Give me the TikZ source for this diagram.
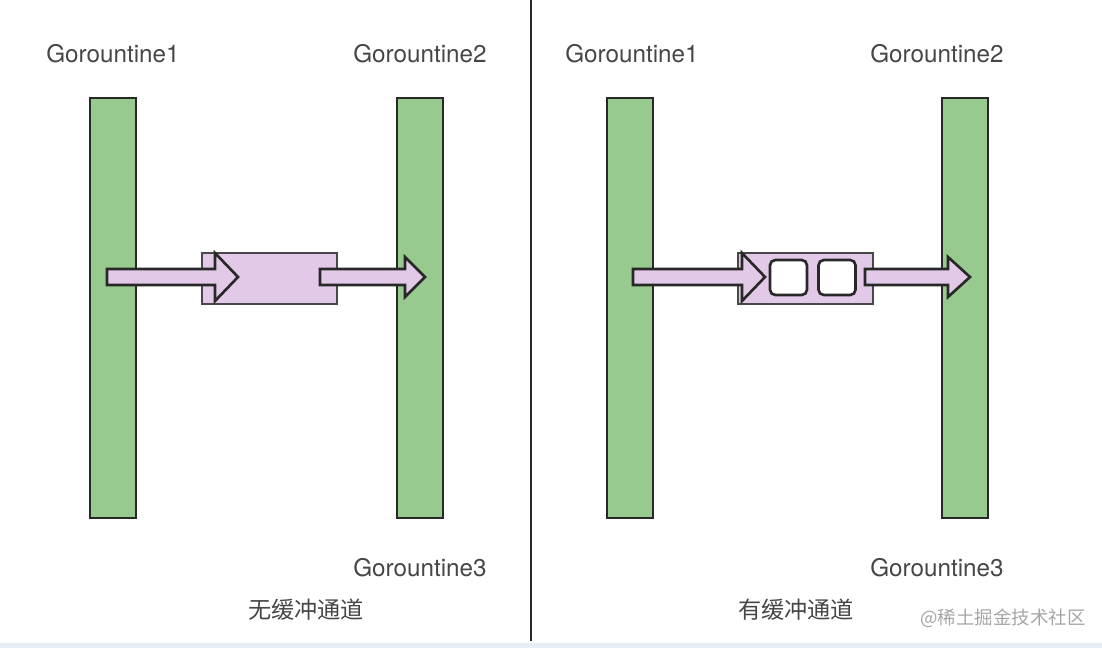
\documentclass[tikz,border=0pt]{standalone}
\usepackage{fontspec}
\setmainfont{TeX Gyre Heros}
\newfontfamily\cjk{Noto Sans CJK SC}
\usetikzlibrary{positioning}
\definecolor{barGreen}{RGB}{152,202,143}
\definecolor{chanPurple}{RGB}{226,201,232}
\definecolor{edgeGray}{RGB}{40,40,40}
\definecolor{textGray}{RGB}{70,70,70}
\definecolor{stripBlue}{RGB}{230,237,245}

% fat arrow: start x, head base x, tip x, head half height, centre y
\newcommand{\fatarrow}[5]{%
  \draw[fatarr] (#1,#5-8) -- (#2,#5-8) -- (#2,#5-#4) -- (#3,#5)
    -- (#2,#5+#4) -- (#2,#5+8) -- (#1,#5+8) -- cycle;}

\begin{document}
\begin{tikzpicture}[
  x=0.02cm, y=-0.02cm,
  bar/.style={
    rectangle, draw=edgeGray, fill=barGreen, line width=1.4pt,
    minimum width=0.92cm, minimum height=8.4cm, inner sep=0pt
  },
  chan/.style={
    rectangle, draw=edgeGray!85, fill=chanPurple, line width=1pt,
    minimum width=2.7cm, minimum height=1.02cm, inner sep=0pt
  },
  slot/.style={
    rectangle, rounded corners=3pt, draw=edgeGray, fill=white,
    line width=1.5pt, minimum width=0.74cm, minimum height=0.7cm,
    inner sep=0pt
  },
  lbl/.style={font=\fontsize{13.8}{16}\selectfont, text=textGray},
  caption/.style={font=\cjk\fontsize{13.2}{15}\selectfont, text=textGray},
  fatarr/.style={draw=edgeGray, fill=chanPurple, line width=1.5pt,
    line join=miter}
]
  \useasboundingbox (0,0) rectangle (1102,648);
  \fill[stripBlue] (0,643) rectangle (1102,648);

  % divider
  \coordinate (divTop) at (531,0);
  \coordinate (divBot) at (531,641);
  \draw[edgeGray, line width=1.3pt] (divTop) -- (divBot);

  % unbuffered channel
  \node[bar]  (L1) at (113,308) {};
  \node[bar]  (L2) at (420,308) {};
  \node[chan] (LC) at (269.5,278.5) {};
  \fatarrow{107}{215}{238}{24}{277}
  \fatarrow{320}{405}{425}{20}{277}

  \node[lbl] (L1t) at (113,54) {Gorountine1};
  \node[lbl] (L2t) at (420,54) {Gorountine2};
  \node[lbl] (L3t) at (420,568) {Gorountine3};
  \node[caption] (Lcap) at (306,610) {无缓冲通道};

  % buffered channel
  \node[bar]  (R1) at (630,308) {};
  \node[bar]  (R2) at (965,308) {};
  \node[chan] (RC) at (805.5,278.5) {};
  \fatarrow{633}{742}{765}{24}{277}
  \node[slot] (S1) at (788.5,277.5) {};
  \node[slot] (S2) at (837,277.5) {};
  \fatarrow{865}{948}{970}{20}{277}

  \node[lbl] (R1t) at (632,54) {Gorountine1};
  \node[lbl] (R2t) at (937,54) {Gorountine2};
  \node[lbl] (R3t) at (937,568) {Gorountine3};
  \node[caption] (Rcap) at (796,610) {有缓冲通道};

  \node[font=\cjk\fontsize{10.5}{13}\selectfont, text=gray!70] (mark)
    at (1003,618) {@稀土掘金技术社区};
\end{tikzpicture}
\end{document}
